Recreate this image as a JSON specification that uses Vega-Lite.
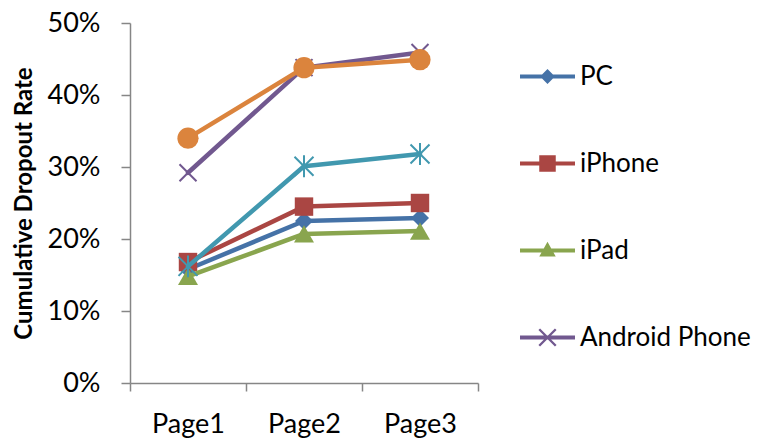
{
  "$schema": "https://vega.github.io/schema/vega-lite/v6.json",
  "width": 348,
  "height": 360,
  "autosize": {"type": "none"},
  "padding": {"left": 130, "top": 23, "right": 280, "bottom": 58},
  "background": "white",
  "config": {
    "view": {"stroke": null},
    "font": "Lato",
    "axis": {
      "domainColor": "#868686",
      "domainWidth": 1.5,
      "tickColor": "#868686",
      "tickWidth": 1.5,
      "tickSize": 9,
      "labelColor": "#000000",
      "labelFont": "Lato",
      "labelFontSize": 27,
      "grid": false
    },
    "legend": {
      "labelFont": "Lato",
      "labelFontSize": 26,
      "labelColor": "#000000",
      "labelLimit": 300
    }
  },
  "data": {
    "values": [
      {"device": "PC", "page": "Page1", "rate": 0.158},
      {"device": "PC", "page": "Page2", "rate": 0.225},
      {"device": "PC", "page": "Page3", "rate": 0.229},
      {"device": "iPhone", "page": "Page1", "rate": 0.168},
      {"device": "iPhone", "page": "Page2", "rate": 0.245},
      {"device": "iPhone", "page": "Page3", "rate": 0.250},
      {"device": "iPad", "page": "Page1", "rate": 0.148},
      {"device": "iPad", "page": "Page2", "rate": 0.207},
      {"device": "iPad", "page": "Page3", "rate": 0.211},
      {"device": "Android Phone", "page": "Page1", "rate": 0.292},
      {"device": "Android Phone", "page": "Page2", "rate": 0.438},
      {"device": "Android Phone", "page": "Page3", "rate": 0.459},
      {"device": "Android Tablet", "page": "Page1", "rate": 0.162},
      {"device": "Android Tablet", "page": "Page2", "rate": 0.301},
      {"device": "Android Tablet", "page": "Page3", "rate": 0.318},
      {"device": "Other", "page": "Page1", "rate": 0.340},
      {"device": "Other", "page": "Page2", "rate": 0.438},
      {"device": "Other", "page": "Page3", "rate": 0.449}
    ]
  },
  "encoding": {
    "x": {
      "field": "page",
      "type": "nominal",
      "scale": {"type": "band", "domain": ["Page1", "Page2", "Page3"], "paddingInner": 0, "paddingOuter": 0},
      "axis": {"title": null, "labelAngle": 0, "tickBand": "extent", "tickSize": 8, "labelPadding": 20}
    },
    "y": {
      "field": "rate",
      "type": "quantitative",
      "scale": {"domain": [0, 0.5], "nice": false},
      "axis": {
        "title": "Cumulative Dropout Rate",
        "titleFont": "Lato",
        "titleFontSize": 24,
        "titleFontWeight": "bold",
        "titleColor": "#000000",
        "titlePadding": 11,
        "format": ".0%",
        "values": [0, 0.1, 0.2, 0.3, 0.4, 0.5],
        "labelPadding": 21
      }
    },
    "color": {
      "field": "device",
      "type": "nominal",
      "scale": {
        "domain": ["PC", "iPhone", "iPad", "Android Phone", "Android Tablet", "Other"],
        "range": ["#4572A7", "#AA4643", "#89A54E", "#71588F", "#4198AF", "#DB843D"]
      },
      "legend": {
        "title": null,
        "orient": "none",
        "legendX": 390,
        "legendY": 26,
        "padding": 0,
        "values": ["PC", "iPhone", "iPad", "Android Phone"],
        "symbolSize": 3025,
        "symbolStrokeWidth": 0,
        "symbolOpacity": 1,
        "rowPadding": 46,
        "labelOffset": 5
      }
    }
  },
  "layer": [
    {
      "transform": [{"filter": "datum.device === 'PC'"}],
      "mark": {"type": "line", "strokeWidth": 4.5, "strokeJoin": "round", "strokeCap": "round",
               "point": {"shape": "diamond", "size": 324, "filled": true}}
    },
    {
      "transform": [{"filter": "datum.device === 'iPhone'"}],
      "mark": {"type": "line", "strokeWidth": 4.5, "strokeJoin": "round", "strokeCap": "round",
               "point": {"shape": "square", "size": 340, "filled": true}}
    },
    {
      "transform": [{"filter": "datum.device === 'iPad'"}],
      "mark": {"type": "line", "strokeWidth": 4.5, "strokeJoin": "round", "strokeCap": "round",
               "point": {"shape": "triangle-up", "size": 400, "filled": true}}
    },
    {
      "transform": [{"filter": "datum.device === 'Android Phone'"}],
      "mark": {"type": "line", "strokeWidth": 4.5, "strokeJoin": "round", "strokeCap": "round",
               "point": {"shape": "M-1,-1L1,1M-1,1L1,-1", "size": 289, "filled": false, "strokeWidth": 2}}
    },
    {
      "transform": [{"filter": "datum.device === 'Android Tablet'"}],
      "mark": {"type": "line", "strokeWidth": 4.5, "strokeJoin": "round", "strokeCap": "round",
               "point": {"shape": "M-1,-1L1,1M-1,1L1,-1M0,-1.15L0,1.15", "size": 361, "filled": false, "strokeWidth": 2}}
    },
    {
      "transform": [{"filter": "datum.device === 'Other'"}],
      "mark": {"type": "line", "strokeWidth": 4.5, "strokeJoin": "round", "strokeCap": "round",
               "point": {"shape": "circle", "size": 450, "filled": true}}
    },
    {
      "mark": {"type": "point", "filled": true, "size": 3025, "opacity": 0},
      "encoding": {
        "shape": {
          "field": "device",
          "type": "nominal",
          "scale": {
            "domain": ["PC", "iPhone", "iPad", "Android Phone", "Android Tablet", "Other"],
            "range": [
              "M-1,-0.075L1,-0.075L1,0.075L-1,0.075ZM0,-0.27L0.27,0L0,0.27L-0.27,0Z",
              "M-1,-0.075L1,-0.075L1,0.075L-1,0.075ZM-0.3,-0.3L0.3,-0.3L0.3,0.3L-0.3,0.3Z",
              "M-1,-0.075L1,-0.075L1,0.075L-1,0.075ZM0,-0.32L0.3,0.22L-0.3,0.22Z",
              "M-1,-0.075L1,-0.075L1,0.075L-1,0.075ZM-0.27,-0.33L0.33,0.27L0.27,0.33L-0.33,-0.27ZM0.33,-0.27L-0.27,0.33L-0.33,0.27L0.27,-0.33Z",
              "M-1,-0.075L1,-0.075L1,0.075L-1,0.075Z",
              "M-1,-0.075L1,-0.075L1,0.075L-1,0.075Z"
            ]
          },
          "legend": {
            "title": null,
            "orient": "none",
            "legendX": 390,
            "legendY": 26,
            "padding": 0,
            "values": ["PC", "iPhone", "iPad", "Android Phone"],
            "symbolSize": 3025,
            "symbolStrokeWidth": 0,
            "symbolOpacity": 1,
            "rowPadding": 46,
            "labelOffset": 5
          }
        }
      }
    }
  ]
}
